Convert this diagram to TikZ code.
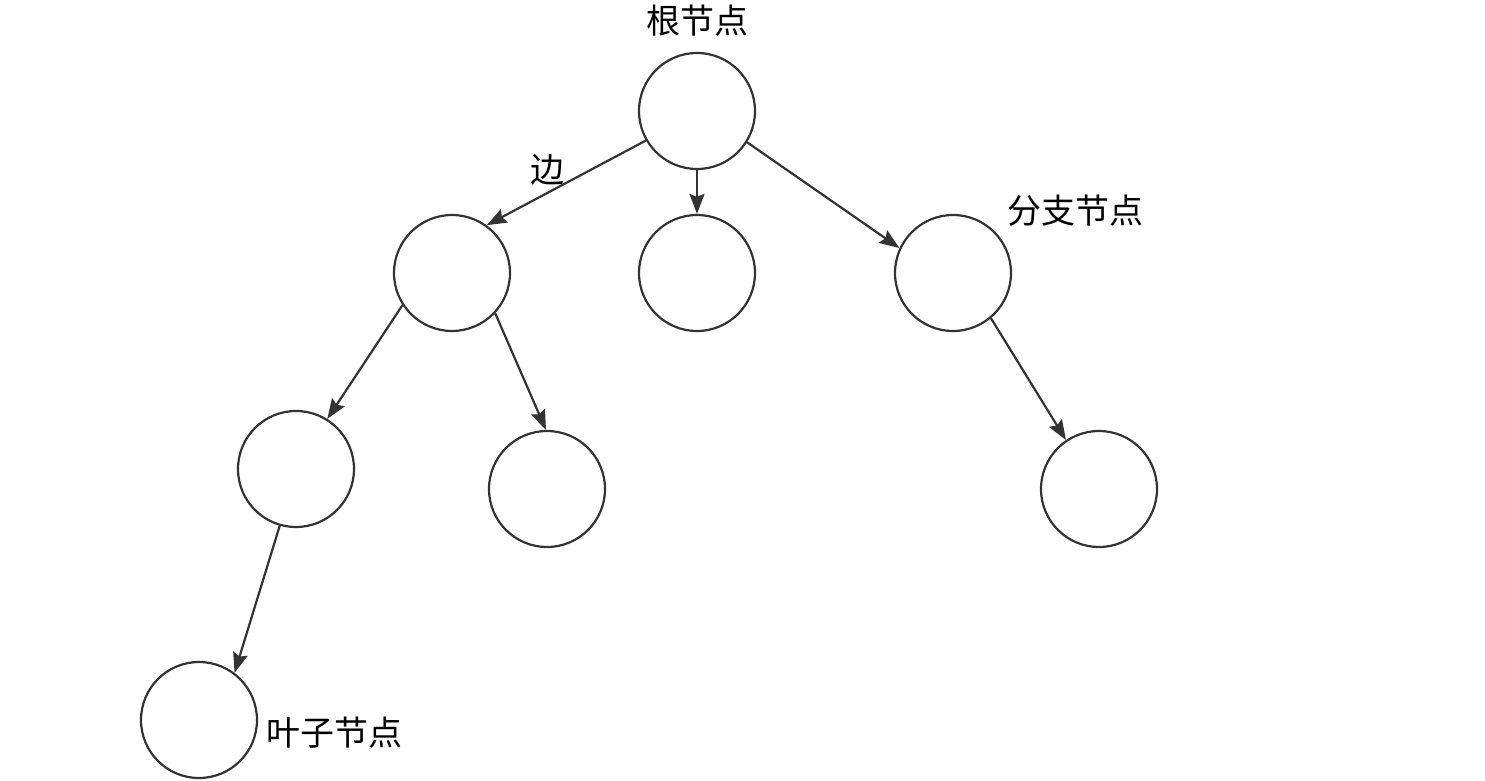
\documentclass[tikz,border=0pt]{standalone}
\usepackage{fontspec}
\newfontfamily\cjk{Noto Sans CJK SC}
\usetikzlibrary{arrows.meta}
\definecolor{ln}{HTML}{333333}
\begin{document}
\begin{tikzpicture}[x=1pt,y=-1pt,
  tnode/.style={circle,draw=ln,line width=2.2pt,minimum size=116pt,inner sep=0pt},
  edge/.style={draw=ln,line width=2.2pt,-{Stealth[length=20pt,width=15pt,inset=3pt]}},
  lbl/.style={font=\cjk\fontsize{34}{38}\selectfont,inner sep=0pt,text=black}]
\useasboundingbox (0,0) rectangle (1485,781);
\node[tnode] (root) at (697,111) {};
\node[tnode] (l) at (452,273) {};
\node[tnode] (m) at (697,273) {};
\node[tnode] (r) at (953,273) {};
\node[tnode] (ll) at (296,469) {};
\node[tnode] (lr) at (547,489) {};
\node[tnode] (rr) at (1099,489) {};
\node[tnode] (leaf) at (199,720) {};
\node[lbl] (t1) at (697,21) {根节点};
\node[lbl] (t2) at (547,170) {边};
\node[lbl] (t3) at (1075,211) {分支节点};
\node[lbl] (t4) at (334,733) {叶子节点};
\draw[edge] (root.210) -- (l.54);
\draw[edge] (root.south) -- (m.north);
\draw[edge] (root.328) -- (r.155);
\draw[edge] (l.213) -- (ll.58);
\draw[edge] (l.317) -- (lr.91);
\draw[edge] (r.310) -- (rr.124);
\draw[edge] (ll.254) -- (leaf.53);
\end{tikzpicture}
\end{document}
